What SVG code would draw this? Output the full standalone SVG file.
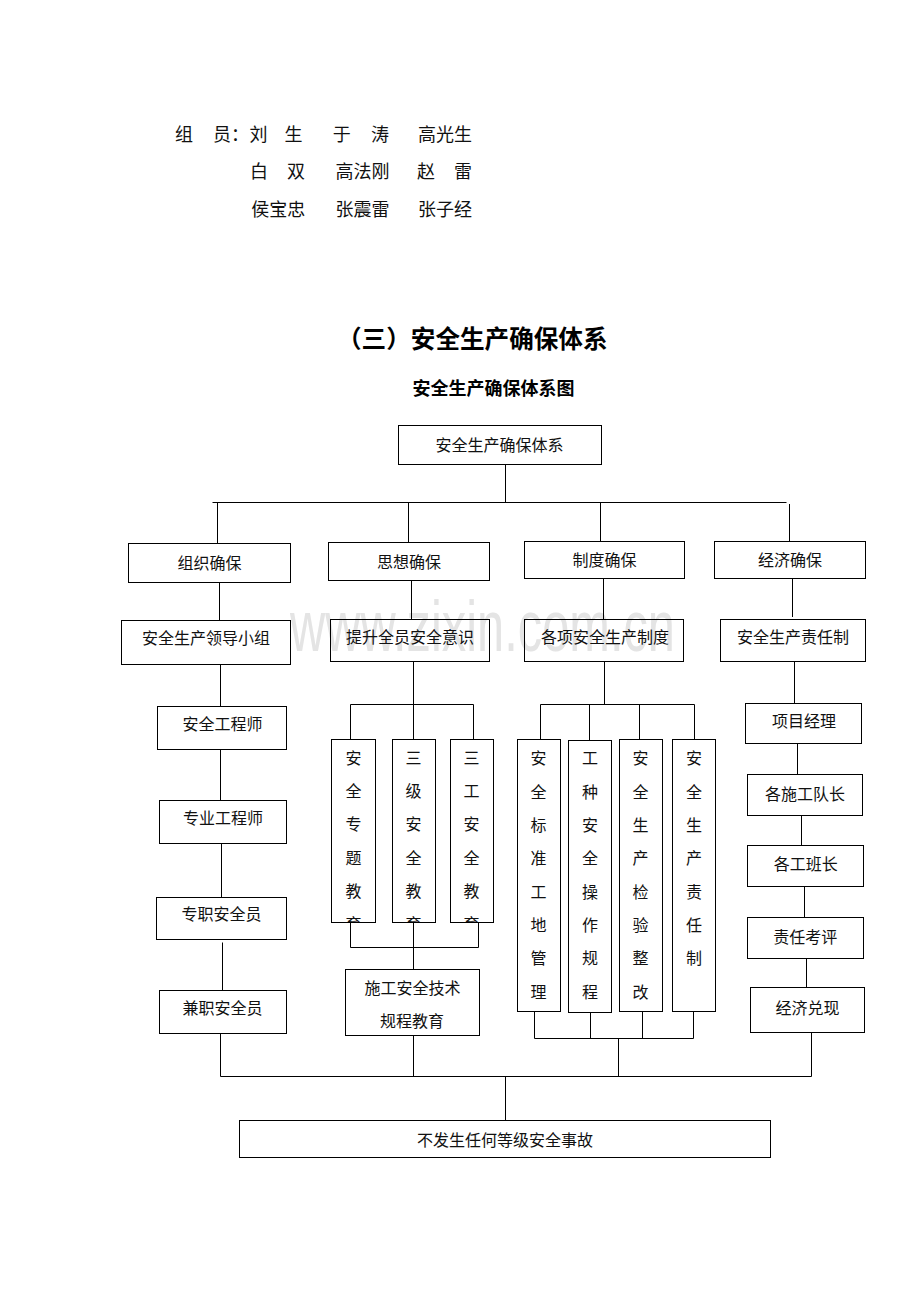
<svg xmlns="http://www.w3.org/2000/svg" width="920" height="1302" viewBox="0 0 920 1302">
<style>
.box{fill:none;stroke:#000;stroke-width:1}
.ln{fill:none;stroke:#000;stroke-width:1}
.t{font-family:'Noto Sans CJK SC',sans-serif;font-size:16px;fill:#111;text-anchor:middle;dominant-baseline:central}
.m{font-family:'Noto Sans CJK SC',sans-serif;font-size:18px;fill:#111;dominant-baseline:central}
.wm{font-family:'Liberation Sans',Arial,sans-serif;font-size:73px;fill:#e4e4e4}
</style>
<defs>
<clipPath id="clipEdu" clipPathUnits="userSpaceOnUse">
<rect x="332" y="740" width="43" height="182"/>
<rect x="393" y="740" width="42" height="182"/>
<rect x="451" y="740" width="42" height="182"/>
</clipPath>
</defs>
<rect width="920" height="1302" fill="#fff"/>
<g id="watermark">
<text class="wm" x="290" y="651" textLength="385" lengthAdjust="spacingAndGlyphs">www.zixin.com.cn</text>
</g>
<g id="header">
<text class="m" y="132.5"><tspan x="175">组</tspan><tspan x="213">员：</tspan><tspan x="249.5">刘</tspan><tspan x="284.5">生</tspan><tspan x="332.7">于</tspan><tspan x="371">涛</tspan><tspan x="418">高光生</tspan></text>
<text class="m" y="169.5"><tspan x="250">白</tspan><tspan x="287">双</tspan><tspan x="335.5">高法刚</tspan><tspan x="417">赵</tspan><tspan x="454">雷</tspan></text>
<text class="m" y="207.5"><tspan x="251.3">侯宝忠</tspan><tspan x="335.5">张震雷</tspan><tspan x="418">张子经</tspan></text>
<text x="337" y="336.7" style="font-family:'Noto Sans CJK SC',sans-serif;font-size:24.6px;font-weight:bold;fill:#000;dominant-baseline:central">（三）安全生产确保体系</text>
<text x="493.5" y="386.7" style="font-family:'Noto Sans CJK SC',sans-serif;font-size:18px;font-weight:bold;fill:#000;text-anchor:middle;dominant-baseline:central">安全生产确保体系图</text>
</g>
<g id="connectors" class="ln">
<path d="M505.5 464.5V502.5M212.5 502.5H786.5M217.5 502.5V543.5M408.5 502.5V542.5M600.5 502.5V541.5M789.5 504V541.5"/>
<path d="M219.5 582.5V620.5M411.5 580.5V619.5M603.5 578.5V619.5M792.5 578.5V617"/>
<path d="M220.5 664.5V706.5M413.5 661.5V739.5M350.5 739.5V704.5H473.5V739.5"/>
<path d="M604.5 661.5V704.5M540.5 739.5V704.5H694.5V739.5M589.5 704.5V740.5M639.5 704.5V739.5"/>
<path d="M794.5 661.5V703.5"/>
<path d="M220.5 749.5V800.5M221.5 843.5V897.5M222.5 942.5V990.5M220.5 1033.5V1076.5"/>
<path d="M350.5 922.5V947.5H478.5V922.5M413.5 922.5V969.5M413.5 1035.5V1076.5"/>
<path d="M534.5 1011.5V1038.5H693.5V1011.5M590.5 1012.5V1038.5M642.5 1011.5V1038.5M618.5 1038.5V1076.5"/>
<path d="M797.5 743.5V774.5M801.5 815.5V845.5M804.5 886.5V917.5M806.5 958.5V987.5M811.5 1032.5V1076.5"/>
<path d="M220.5 1076.5H811.5M505.5 1076.5V1120.5"/>
</g>
<g id="n-root"><rect class="box" x="398.5" y="425.5" width="203" height="39"/><text class="t" x="499.5" y="444">安全生产确保体系</text></g>
<g id="n-org"><rect class="box" x="128.5" y="543.5" width="162" height="39"/><text class="t" x="209.5" y="562">组织确保</text></g>
<g id="n-idea"><rect class="box" x="328.5" y="542.5" width="161" height="38"/><text class="t" x="409" y="561">思想确保</text></g>
<g id="n-sys"><rect class="box" x="524.5" y="541.5" width="160" height="37"/><text class="t" x="604.5" y="559">制度确保</text></g>
<g id="n-eco"><rect class="box" x="714.5" y="541.5" width="151" height="37"/><text class="t" x="790" y="559">经济确保</text></g>
<g id="n-lead"><rect class="box" x="121.5" y="620.5" width="169" height="44"/><text class="t" x="206" y="636.5">安全生产领导小组</text></g>
<g id="n-aware"><rect class="box" x="330.5" y="619.5" width="159" height="42"/><text class="t" x="410" y="636">提升全员安全意识</text></g>
<g id="n-rules"><rect class="box" x="524.5" y="619.5" width="159" height="42"/><text class="t" x="605" y="636">各项安全生产制度</text></g>
<g id="n-resp"><rect class="box" x="720.5" y="619.5" width="145" height="42"/><text class="t" x="793" y="635.5">安全生产责任制</text></g>
<g id="n-eng"><rect class="box" x="157.5" y="706.5" width="129" height="43"/><text class="t" x="222.5" y="723">安全工程师</text></g>
<g id="n-spec"><rect class="box" x="159.5" y="800.5" width="127" height="43"/><text class="t" x="223" y="817">专业工程师</text></g>
<g id="n-full"><rect class="box" x="156.5" y="897.5" width="130" height="42"/><text class="t" x="221.5" y="913">专职安全员</text></g>
<g id="n-part"><rect class="box" x="159.5" y="990.5" width="127" height="43"/><text class="t" x="222.5" y="1007">兼职安全员</text></g>
<g id="n-edu1"><rect class="box" x="331.5" y="739.5" width="44" height="183"/><text class="t" clip-path="url(#clipEdu)" x="353.5 353.5 353.5 353.5 353.5 353.5" y="756.7 790 823.3 856.5 889.8 923">安全专题教育</text></g>
<g id="n-edu2"><rect class="box" x="392.5" y="739.5" width="43" height="183"/><text class="t" clip-path="url(#clipEdu)" x="413.5 413.5 413.5 413.5 413.5 413.5" y="756.7 790 823.3 856.5 889.8 923">三级安全教育</text></g>
<g id="n-edu3"><rect class="box" x="450.5" y="739.5" width="43" height="183"/><text class="t" clip-path="url(#clipEdu)" x="471.5 471.5 471.5 471.5 471.5 471.5" y="756.7 790 823.3 856.5 889.8 923">三工安全教育</text></g>
<g id="n-tech"><rect class="box" x="345.5" y="969.5" width="134" height="66"/><text class="t" x="412.5" y="987">施工安全技术</text><text class="t" x="412" y="1020">规程教育</text></g>
<g id="n-site"><rect class="box" x="517.5" y="739.5" width="43" height="272"/><text class="t" x="538.5 538.5 538.5 538.5 538.5 538.5 538.5 538.5" y="756.7 790.7 824 857 891 923.5 957 991">安全标准工地管理</text></g>
<g id="n-oper"><rect class="box" x="568.5" y="740.5" width="43" height="272"/><text class="t" x="590 590 590 590 590 590 590 590" y="756.7 790.7 824 857 891 923.5 957 991">工种安全操作规程</text></g>
<g id="n-insp"><rect class="box" x="619.5" y="739.5" width="43" height="272"/><text class="t" x="640.5 640.5 640.5 640.5 640.5 640.5 640.5 640.5" y="756.7 790.7 824 857 891 923.5 957 991">安全生产检验整改</text></g>
<g id="n-duty"><rect class="box" x="672.5" y="739.5" width="43" height="272"/><text class="t" x="694 694 694 694 694 694 694" y="756.7 790.7 824 857 891 923.5 957">安全生产责任制</text></g>
<g id="n-pm"><rect class="box" x="745.5" y="703.5" width="116" height="40"/><text class="t" x="804" y="720">项目经理</text></g>
<g id="n-team"><rect class="box" x="747.5" y="774.5" width="115" height="41"/><text class="t" x="805" y="792.7">各施工队长</text></g>
<g id="n-crew"><rect class="box" x="747.5" y="845.5" width="116" height="41"/><text class="t" x="805.8" y="863">各工班长</text></g>
<g id="n-eval"><rect class="box" x="747.5" y="917.5" width="116" height="41"/><text class="t" x="805.3" y="936">责任考评</text></g>
<g id="n-pay"><rect class="box" x="750.5" y="987.5" width="114" height="45"/><text class="t" x="807.5" y="1006.7">经济兑现</text></g>
<g id="n-goal"><rect class="box" x="239.5" y="1120.5" width="531" height="37"/><text class="t" x="505" y="1138.5">不发生任何等级安全事故</text></g>
</svg>
